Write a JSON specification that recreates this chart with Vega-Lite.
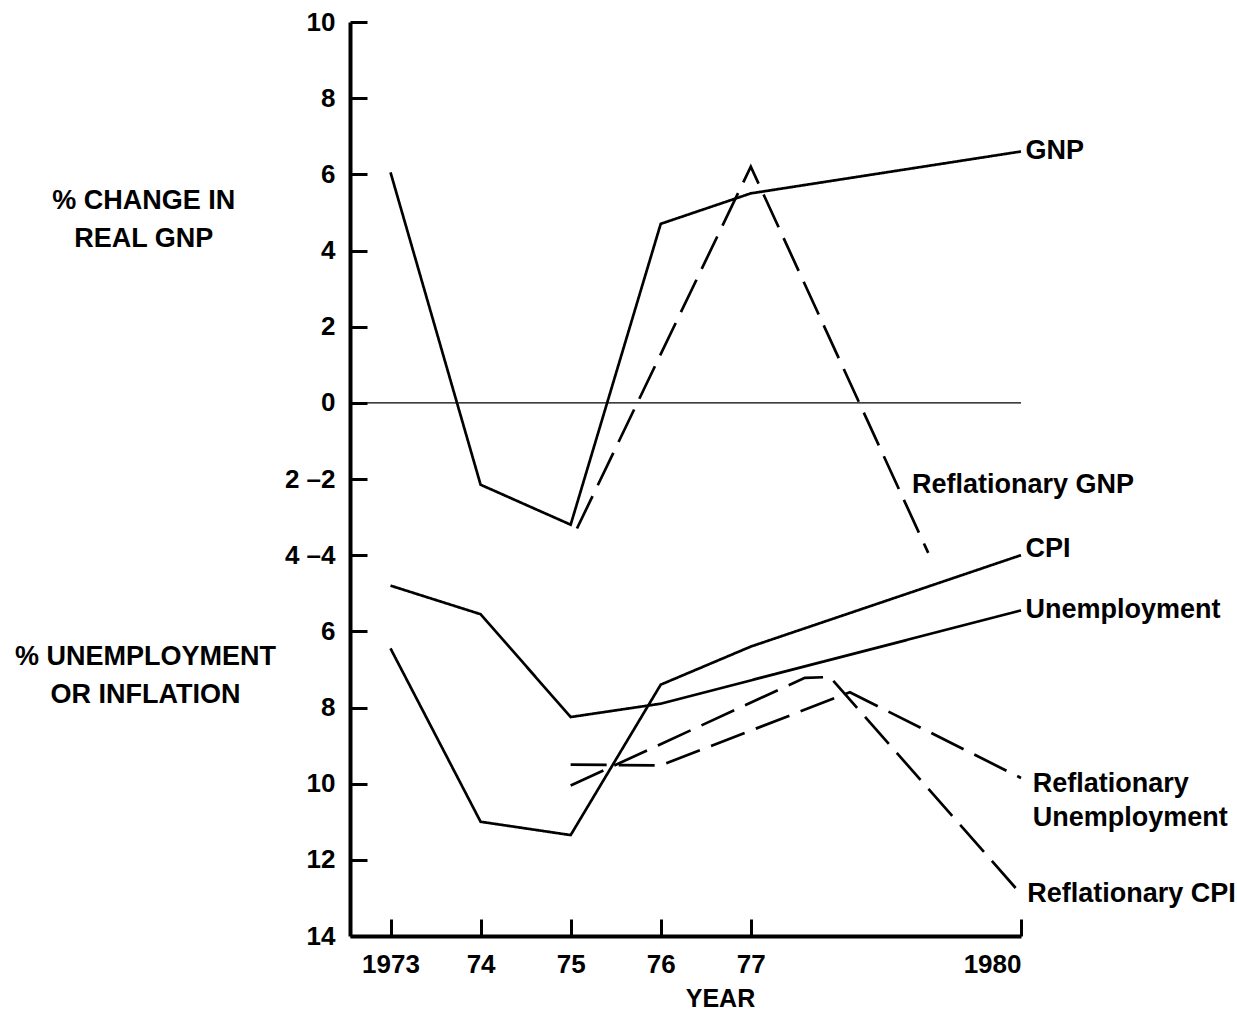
{
  "$schema": "https://vega.github.io/schema/vega-lite/v6.json",
  "width": 671,
  "height": 914,
  "autosize": {"type": "none"},
  "padding": {"left": 350, "top": 22, "right": 216, "bottom": 76},
  "background": "white",
  "config": {"view": {"stroke": null}, "font": "Liberation Sans"},
  "datasets": {
    "lines": [
      {"series": "GNP", "year": 1973, "value": 6.05},
      {"series": "GNP", "year": 1974, "value": -2.15},
      {"series": "GNP", "year": 1975, "value": -3.2},
      {"series": "GNP", "year": 1976, "value": 4.7},
      {"series": "GNP", "year": 1977, "value": 5.5},
      {"series": "GNP", "year": 1980, "value": 6.6},
      {"series": "Reflationary GNP", "year": 1975.07, "value": -3.3},
      {"series": "Reflationary GNP", "year": 1977, "value": 6.2},
      {"series": "Reflationary GNP", "year": 1978.97, "value": -3.94},
      {"series": "CPI", "year": 1973, "value": -6.45},
      {"series": "CPI", "year": 1974, "value": -11.0},
      {"series": "CPI", "year": 1975, "value": -11.35},
      {"series": "CPI", "year": 1976, "value": -7.4},
      {"series": "CPI", "year": 1977, "value": -6.4},
      {"series": "CPI", "year": 1980, "value": -4.0},
      {"series": "Unemployment", "year": 1973, "value": -4.8},
      {"series": "Unemployment", "year": 1974, "value": -5.55},
      {"series": "Unemployment", "year": 1975, "value": -8.25},
      {"series": "Unemployment", "year": 1976, "value": -7.9},
      {"series": "Unemployment", "year": 1980, "value": -5.45},
      {"series": "Reflationary Unemployment", "year": 1975, "value": -9.5},
      {"series": "Reflationary Unemployment", "year": 1976, "value": -9.52},
      {"series": "Reflationary Unemployment", "year": 1978.1, "value": -7.6},
      {"series": "Reflationary Unemployment", "year": 1980, "value": -9.85},
      {"series": "Reflationary CPI", "year": 1975, "value": -10.05},
      {"series": "Reflationary CPI", "year": 1977.6, "value": -7.22},
      {"series": "Reflationary CPI", "year": 1977.88, "value": -7.2},
      {"series": "Reflationary CPI", "year": 1980, "value": -12.9}
    ],
    "labels": [
      {"label": "GNP", "year": 1980.05, "value": 6.6},
      {"label": "Reflationary GNP", "year": 1978.79, "value": -2.16},
      {"label": "CPI", "year": 1980.05, "value": -3.84},
      {"label": "Unemployment", "year": 1980.05, "value": -5.44},
      {"label": "Reflationary\nUnemployment", "year": 1980.13, "value": -10.02},
      {"label": "Reflationary CPI", "year": 1980.07, "value": -12.9}
    ],
    "titles": [
      {"label": "% CHANGE IN\nREAL GNP", "year": 1970.26, "value": 5.3},
      {"label": "% UNEMPLOYMENT\nOR INFLATION", "year": 1970.28, "value": -6.68}
    ],
    "zero": [{"value": 0}]
  },
  "layer": [
    {
      "data": {"name": "zero"},
      "mark": {"type": "rule", "color": "black", "strokeWidth": 1.2},
      "encoding": {
        "y": {"field": "value", "type": "quantitative"}
      }
    },
    {
      "data": {"name": "lines"},
      "mark": {"type": "line", "color": "black", "strokeWidth": 2.7, "clip": false},
      "encoding": {
        "x": {
          "field": "year", "type": "quantitative",
          "scale": {"domain": [1972.55, 1980], "nice": false, "zero": false},
          "axis": {
            "values": [1973, 1974, 1975, 1976, 1977, 1980],
            "labelExpr": "(datum.value == 1973 || datum.value == 1980) ? format(datum.value, 'd') : slice(format(datum.value, 'd'), 2)",
            "labelFont": "Liberation Sans", "labelFontWeight": "bold", "labelFontSize": 26, "labelColor": "black",
            "labelPadding": 32,
            "domainColor": "black", "domainWidth": 4,
            "tickColor": "black", "tickWidth": 3, "tickSize": -17,
            "grid": false,
            "title": "YEAR", "titleFont": "Liberation Sans", "titleFontWeight": "bold", "titleFontSize": 25, "titleColor": "black",
            "titleX": 370, "titleY": 50, "titleBaseline": "top"
          }
        },
        "y": {
          "field": "value", "type": "quantitative",
          "scale": {"domain": [-14, 10], "nice": false, "zero": false},
          "axis": {
            "values": [10, 8, 6, 4, 2, 0, -2, -4, -6, -8, -10, -12, -14],
            "labelExpr": "datum.value == -2 ? '2 –2' : (datum.value == -4 ? '4 –4' : format(abs(datum.value), 'd'))",
            "labelFont": "Liberation Sans", "labelFontWeight": "bold", "labelFontSize": 26, "labelColor": "black",
            "labelPadding": 32,
            "domainColor": "black", "domainWidth": 4,
            "tickColor": "black", "tickWidth": 3, "tickSize": -17,
            "grid": false, "title": null
          }
        },
        "detail": {"field": "series"},
        "strokeDash": {
          "field": "series", "type": "nominal", "legend": null,
          "scale": {
            "domain": ["GNP", "CPI", "Unemployment", "Reflationary GNP", "Reflationary Unemployment", "Reflationary CPI"],
            "range": [[1, 0], [1, 0], [1, 0], [36, 12], [36, 12], [36, 12]]
          }
        }
      }
    },
    {
      "data": {"name": "labels"},
      "mark": {"type": "text", "align": "left", "baseline": "middle", "font": "Liberation Sans", "fontWeight": "bold", "fontSize": 27, "color": "black", "lineBreak": "\n", "lineHeight": 34, "clip": false},
      "encoding": {
        "x": {"field": "year", "type": "quantitative"},
        "y": {"field": "value", "type": "quantitative"},
        "text": {"field": "label"}
      }
    },
    {
      "data": {"name": "titles"},
      "mark": {"type": "text", "align": "center", "baseline": "middle", "font": "Liberation Sans", "fontWeight": "bold", "fontSize": 27, "color": "black", "lineBreak": "\n", "lineHeight": 38, "clip": false},
      "encoding": {
        "x": {"field": "year", "type": "quantitative"},
        "y": {"field": "value", "type": "quantitative"},
        "text": {"field": "label"}
      }
    }
  ]
}
